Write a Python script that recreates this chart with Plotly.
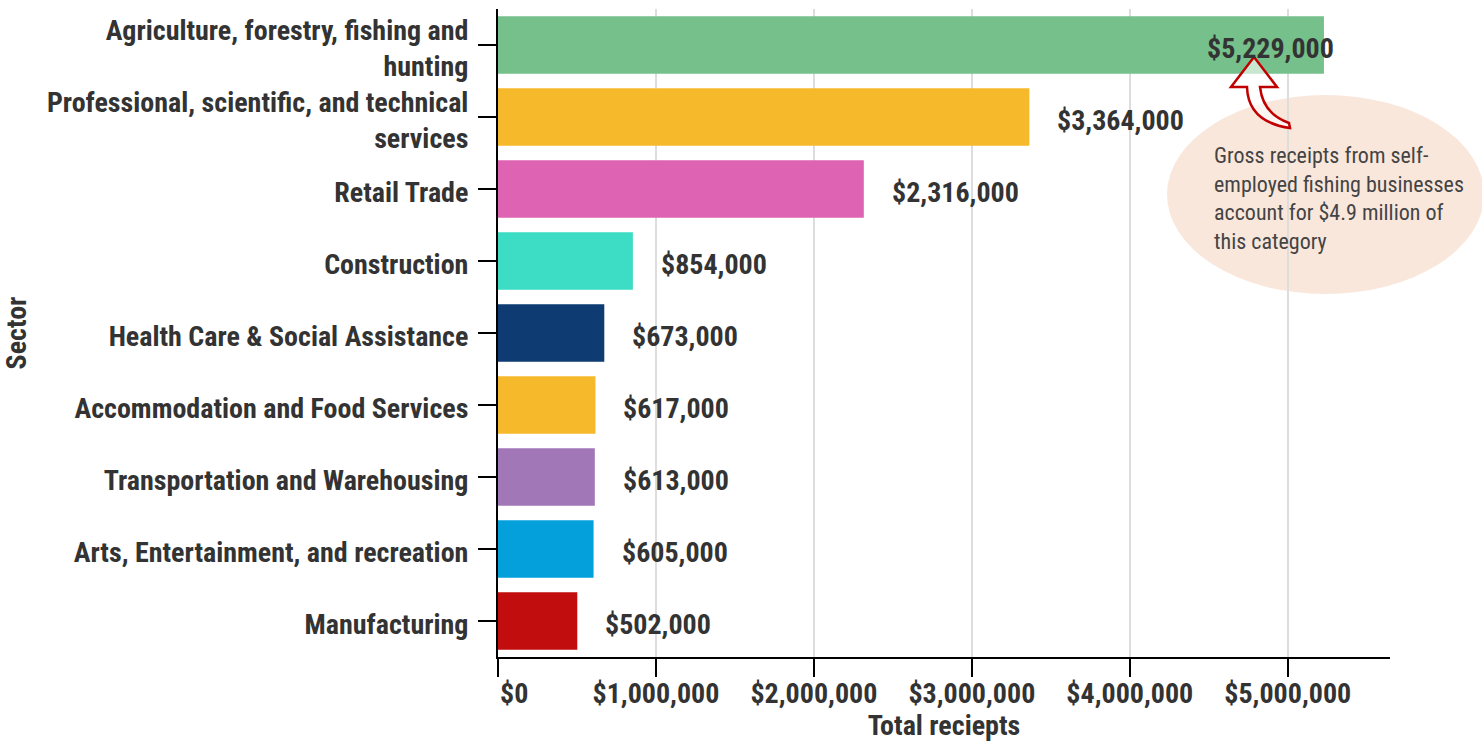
import plotly.graph_objects as go

categories = [
    "Agriculture, forestry, fishing and<br>hunting",
    "Professional, scientific, and technical<br>services",
    "Retail Trade",
    "Construction",
    "Health Care & Social Assistance",
    "Accommodation and Food Services",
    "Transportation and Warehousing",
    "Arts, Entertainment, and recreation",
    "Manufacturing",
]
values = [5229000, 3364000, 2316000, 854000, 673000, 617000, 613000, 605000, 502000]
colors = ["#75c08b", "#f6b92b", "#de63b3", "#3ddcc5", "#0d3b72",
          "#f6b92b", "#a177b7", "#03a0db", "#c10d0d"]
x_tickvals = [0, 1000000, 2000000, 3000000, 4000000, 5000000]
x_ticktext = ["\u00a0\u00a0\u00a0\u00a0\u00a0$0", "$1,000,000", "$2,000,000",
              "$3,000,000", "$4,000,000", "$5,000,000"]
note_text = ("Gross receipts from self-<br>employed fishing businesses<br>"
             "account for $4.9 million of<br>this category")

FONT = "Roboto Condensed, Liberation Sans Narrow, DejaVu Sans Condensed, Roboto"
W, H = 1482, 742
ML, MR, MT, MB = 498, 92, 9, 85
PW, PH = W - ML - MR, H - MT - MB


def px(x):
    return (x - ML) / PW


def py(y):
    return (H - MB - y) / PH


fig = go.Figure(go.Bar(
    x=values, y=categories, orientation="h",
    marker=dict(color=colors, line=dict(width=0)),
    hoverinfo="skip",
))

for i, (c, v) in enumerate(zip(categories, values)):
    if i == 0:
        fig.add_annotation(x=v, y=c, text=f"${v:,}", showarrow=False,
                           xanchor="right", xshift=12, yshift=-3,
                           font=dict(family=FONT, size=28, color="#333333", weight="bold"))
    else:
        fig.add_annotation(x=v, y=c, text=f"${v:,}", showarrow=False,
                           xanchor="left", xshift=26, yshift=-3,
                           font=dict(family=FONT, size=28, color="#333333", weight="bold"))

# ellipse callout
fig.add_shape(type="circle", xref="paper", yref="paper",
              x0=px(1167), x1=px(1484), y0=py(95), y1=py(294),
              fillcolor="#fae7dc", line=dict(width=0), layer="below")
fig.add_annotation(xref="paper", yref="paper", x=px(1212), y=py(199), text=note_text,
                   showarrow=False, xanchor="left", yanchor="middle", align="left",
                   font=dict(family=FONT, size=22, color="#444444"))

# curved hollow arrow
pts = {
    "tip": (1254, 57), "hr": (1277, 87), "sr": (1260, 87),
    "c1": (1263, 114), "tt": (1289, 123), "tb": (1290, 128),
    "c2": (1248, 122), "sl": (1247, 87), "hl": (1231, 87),
}
P = {k: (px(a), py(b)) for k, (a, b) in pts.items()}
path = (f"M {P['tip'][0]},{P['tip'][1]} L {P['hr'][0]},{P['hr'][1]} "
        f"L {P['sr'][0]},{P['sr'][1]} Q {P['c1'][0]},{P['c1'][1]} {P['tt'][0]},{P['tt'][1]} "
        f"L {P['tb'][0]},{P['tb'][1]} Q {P['c2'][0]},{P['c2'][1]} {P['sl'][0]},{P['sl'][1]} "
        f"L {P['hl'][0]},{P['hl'][1]} Z")
fig.add_shape(type="path", xref="paper", yref="paper", path=path,
              fillcolor="rgba(255,255,255,0.6)", line=dict(color="#c00000", width=2.5),
              layer="above")

fig.update_layout(
    width=W, height=H,
    margin=dict(l=ML, r=MR, t=MT, b=MB, pad=0),
    paper_bgcolor="white", plot_bgcolor="white",
    showlegend=False, bargap=0.2,
    font=dict(family=FONT, color="#333333"),
    xaxis=dict(
        range=[0, 5229000 * 1.08], tickvals=x_tickvals, ticktext=x_ticktext,
        showgrid=True, gridcolor="#dddddd", gridwidth=1.5, zeroline=False,
        showline=True, linecolor="black", linewidth=2,
        ticks="outside", ticklen=18, tickwidth=2, tickcolor="black",
        ticklabelstandoff=-8, automargin=False,
        tickfont=dict(family=FONT, size=28, color="#333333", weight="bold"),
        title=dict(text="Total reciepts", standoff=14,
                   font=dict(family=FONT, size=28, color="#333333", weight="bold")),
        fixedrange=True,
    ),
    yaxis=dict(
        autorange="reversed", showgrid=False, zeroline=False,
        showline=True, linecolor="black", linewidth=2,
        ticks="outside", ticklen=18, tickwidth=2, tickcolor="black",
        ticklabelstandoff=4, ticklabelshift=-3, automargin=False,
        tickfont=dict(family=FONT, size=28, color="#333333", weight="bold"),
        title=dict(text="Sector", standoff=14,
                   font=dict(family=FONT, size=28, color="#333333", weight="bold")),
        fixedrange=True,
    ),
)

fig.write_html("out.html", config={"displayModeBar": False})
